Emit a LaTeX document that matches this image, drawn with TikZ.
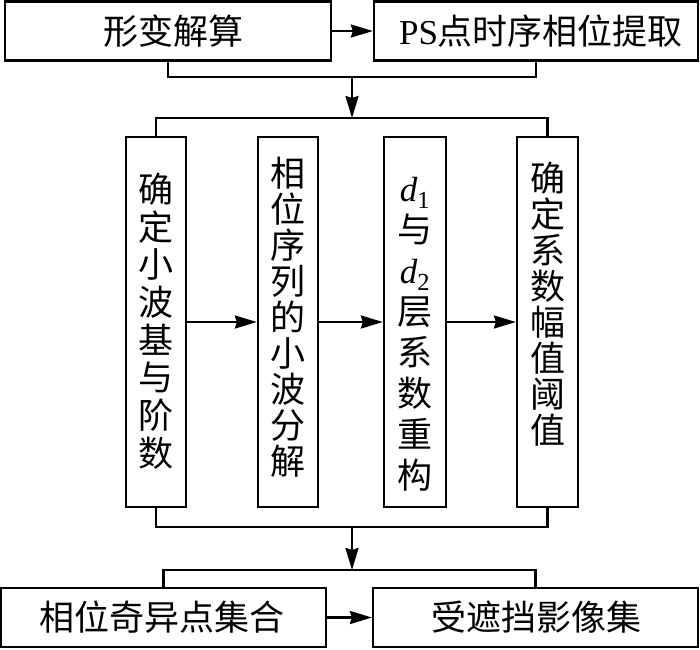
\documentclass[tikz,border=0pt]{standalone}
\usepackage{fontspec}
\setmainfont{Liberation Serif}
\newfontfamily\cjk{Noto Sans CJK SC}
\usetikzlibrary{arrows.meta}
\begin{document}
\begin{tikzpicture}[x=1pt,y=-1pt,
  box/.style={draw, line width=2.3pt, inner sep=0pt},
  hbox/.style={box, minimum height=59pt},
  vbox/.style={box, minimum width=60pt, minimum height=370pt},
  lab/.style={inner sep=0pt, align=center, font=\fontsize{35}{36}\selectfont\cjk},
  conn/.style={line width=2.3pt},
  arr/.style={conn, -{Stealth[length=22pt,width=13pt,inset=2pt]}}]
\useasboundingbox (0,0) rectangle (700,649);
% top row
\node[hbox, minimum width=326pt] (top1) at (168,31) {};
\node[hbox, minimum width=324pt] (top2) at (536,31) {};
\node[lab] (top1t) at (173,31) {形变解算};
\node[lab] (top2t) at (541,31) {{\rmfamily PS}点时序相位提取};
% vertical boxes
\node[vbox] (A) at (156,322) {};
\node[vbox] (B) at (288,322) {};
\node[vbox, minimum width=62pt] (C) at (415,322) {};
\node[vbox, minimum width=61pt] (D) at (547.5,322) {};
\node[lab, font=\fontsize{35}{37.7}\selectfont\cjk] (At) at (156,321) {确\\定\\小\\波\\基\\与\\阶\\数};
\node[lab, font=\fontsize{35}{36}\selectfont\cjk] (Bt) at (288,317) {相\\位\\序\\列\\的\\小\\波\\分\\解};
\node[lab, font=\fontsize{35}{41}\selectfont\cjk] (Ct) at (415,334) {{\rmfamily\itshape d}{\rmfamily\textsubscript{1}}\\与\\{\rmfamily\itshape d}{\rmfamily\textsubscript{2}}\\层\\系\\数\\重\\构};
\node[lab, font=\fontsize{35}{36}\selectfont\cjk] (Dt) at (547.5,304) {确\\定\\系\\数\\幅\\值\\阈\\值};
% bottom row
\node[hbox, minimum width=325pt] (E) at (163.5,617.5) {};
\node[hbox, minimum width=325pt] (F) at (535.5,617.5) {};
\node[lab] (Et) at (162,617.5) {相位奇异点集合};
\node[lab] (Ft) at (536,617.5) {受遮挡影像集};
% junction coordinates
\coordinate (tm) at (352,77);
\coordinate (hm) at (352,118);
\coordinate (bm) at (352,527);
\coordinate (bl) at (352,570);
% connectors
\draw[arr] (top1.east) -- (top2.west);
\draw[conn] (top1.south) -- (top1.south |- tm) -- (top2.south |- tm) -- (top2.south);
\draw[arr] (tm) -- (hm);
\draw[conn] (A.north) -- (A.north |- hm) -- (D.north |- hm) -- (D.north);
\draw[arr] (A.east) -- (B.west);
\draw[arr] (B.east) -- (C.west);
\draw[arr] (C.east) -- (D.west);
\draw[conn] (A.south) -- (A.south |- bm) -- (D.south |- bm) -- (D.south);
\draw[arr] (bm) -- (bl);
\draw[conn] (E.north) -- (E.north |- bl) -- (F.north |- bl) -- (F.north);
\draw[arr] (E.east) -- (F.west);
\end{tikzpicture}
\end{document}
